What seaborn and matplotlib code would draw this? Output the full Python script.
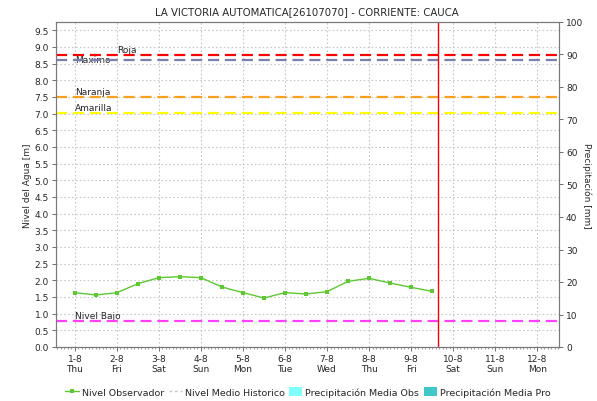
import matplotlib
matplotlib.use("Agg")
import matplotlib.pyplot as plt
from matplotlib.lines import Line2D
from matplotlib.patches import Patch
from matplotlib.ticker import MultipleLocator
import numpy as np
import pandas as pd
import seaborn as sns

# Observed water level, every 12 h starting 1-8 00:00 (day offsets)
obs_time = [0.0, 0.5, 1.0, 1.5, 2.0, 2.5, 3.0, 3.5, 4.0, 4.5,
            5.0, 5.5, 6.0, 6.5, 7.0, 7.5, 8.0, 8.5]
obs_level = [1.63, 1.56, 1.63, 1.90, 2.08, 2.11, 2.08, 1.80, 1.63, 1.47,
             1.63, 1.59, 1.66, 1.97, 2.06, 1.92, 1.79, 1.67]

tick_dates = ["1-8", "2-8", "3-8", "4-8", "5-8", "6-8", "7-8", "8-8",
              "9-8", "10-8", "11-8", "12-8"]
tick_days = ["Thu", "Fri", "Sat", "Sun", "Mon", "Tue", "Wed", "Thu",
             "Fri", "Sat", "Sun", "Mon"]

# Alert thresholds [m]
thr_names = ["Roja", "Maximo", "Naranja", "Amarilla", "Nivel Bajo"]
thr_values = [8.76, 8.61, 7.50, 7.02, 0.78]
thr_colors = ["#ff0000", "#7a7fae", "#ffa020", "#ffff00", "#ff40ff"]

now_mark = 8.64  # current time marker (day offset)

sns.set_theme(style="white")
plt.rcParams["font.family"] = ["DejaVu Sans"]
plt.rcParams["font.size"] = 6.5

fig = plt.figure(figsize=(5.97, 4.02), dpi=100)
ax = fig.add_axes([56 / 597, 1 - 348 / 402, (559 - 56) / 597, (348 - 23) / 402])

df = pd.DataFrame({"t": obs_time, "nivel": obs_level})
sns.lineplot(data=df, x="t", y="nivel", ax=ax, color="#5ec832", lw=1.0,
             marker="s", markersize=2.8, markeredgewidth=0, zorder=5)

for name, val, col in zip(thr_names, thr_values, thr_colors):
    ax.axhline(val, color=col, lw=1.6, dashes=(5, 2.6), zorder=4)

ax.text(0.0, 8.61, "Maximo", fontsize=6.5, va="center", ha="left", zorder=3)
ax.text(1.0, 8.80, "Roja", fontsize=6.5, va="bottom", ha="left", zorder=3)
ax.text(0.0, 7.54, "Naranja", fontsize=6.5, va="bottom", ha="left", zorder=3)
ax.text(0.0, 7.06, "Amarilla", fontsize=6.5, va="bottom", ha="left", zorder=3)
ax.text(0.0, 0.82, "Nivel Bajo", fontsize=6.5, va="bottom", ha="left", zorder=3)

ax.axvline(now_mark, color="#ff0000", lw=1.0, zorder=6)

ax.set_xlim(-0.45, 11.52)
ax.set_ylim(0, 9.75)
ax.set_xticks(range(len(tick_dates)))
ax.set_xticklabels([f"{d}\n{w}" for d, w in zip(tick_dates, tick_days)])
ax.xaxis.set_minor_locator(MultipleLocator(1 / 12))
ax.set_yticks(np.arange(0, 9.51, 0.5))
ax.set_yticklabels([f"{v:.1f}" for v in np.arange(0, 9.51, 0.5)])
ax.grid(True, which="major", color="#c8c8c8", linestyle=(0, (1.5, 2)), lw=0.8)
ax.tick_params(axis="both", which="major", length=3, width=0.6, color="#555555",
               labelsize=6.5, pad=2, left=True, bottom=True)
ax.tick_params(axis="x", which="minor", length=1.5, width=0.4, color="#555555",
               bottom=True)
ax.set_xlabel("")
ax.set_ylabel("Nivel del Agua [m]", fontsize=6.5, labelpad=2)
for s in ax.spines.values():
    s.set_color("#7a7a7a")
    s.set_linewidth(0.8)

ax2 = ax.twinx()
ax2.set_ylim(0, 100)
ax2.set_yticks(range(0, 101, 10))
ax2.tick_params(axis="y", length=3, width=0.6, color="#555555", labelsize=6.5,
                pad=2, right=True)
ax2.set_ylabel("Precipitación [mm]", fontsize=6.5, rotation=270, labelpad=6)
ax2.grid(False)
for s in ax2.spines.values():
    s.set_color("#7a7a7a")
    s.set_linewidth(0.8)

fig.text(307 / 597, 1 - 12 / 402,
         "LA VICTORIA AUTOMATICA[26107070] - CORRIENTE: CAUCA",
         ha="center", va="center", fontsize=7.3)

handles = [
    Line2D([], [], color="#5ec832", lw=1.0, marker="s", markersize=2.8,
           markeredgewidth=0),
    Line2D([], [], color="#c8c8c8", lw=1.0, linestyle=(0, (2, 2))),
    Patch(facecolor="#80ffff", edgecolor="none"),
    Patch(facecolor="#40c8c8", edgecolor="none"),
]
labels = ["Nivel Observador", "Nivel Medio Historico",
          "Precipitación Media Obs", "Precipitación Media Pro"]
fig.legend(handles, labels, loc="center", bbox_to_anchor=(308 / 597, 1 - 393 / 402),
           ncol=4, frameon=False, fontsize=6.8, handlelength=1.4,
           handleheight=1.0, handletextpad=0.3, columnspacing=0.5)

fig.savefig("out.png", dpi=100, facecolor="white")
